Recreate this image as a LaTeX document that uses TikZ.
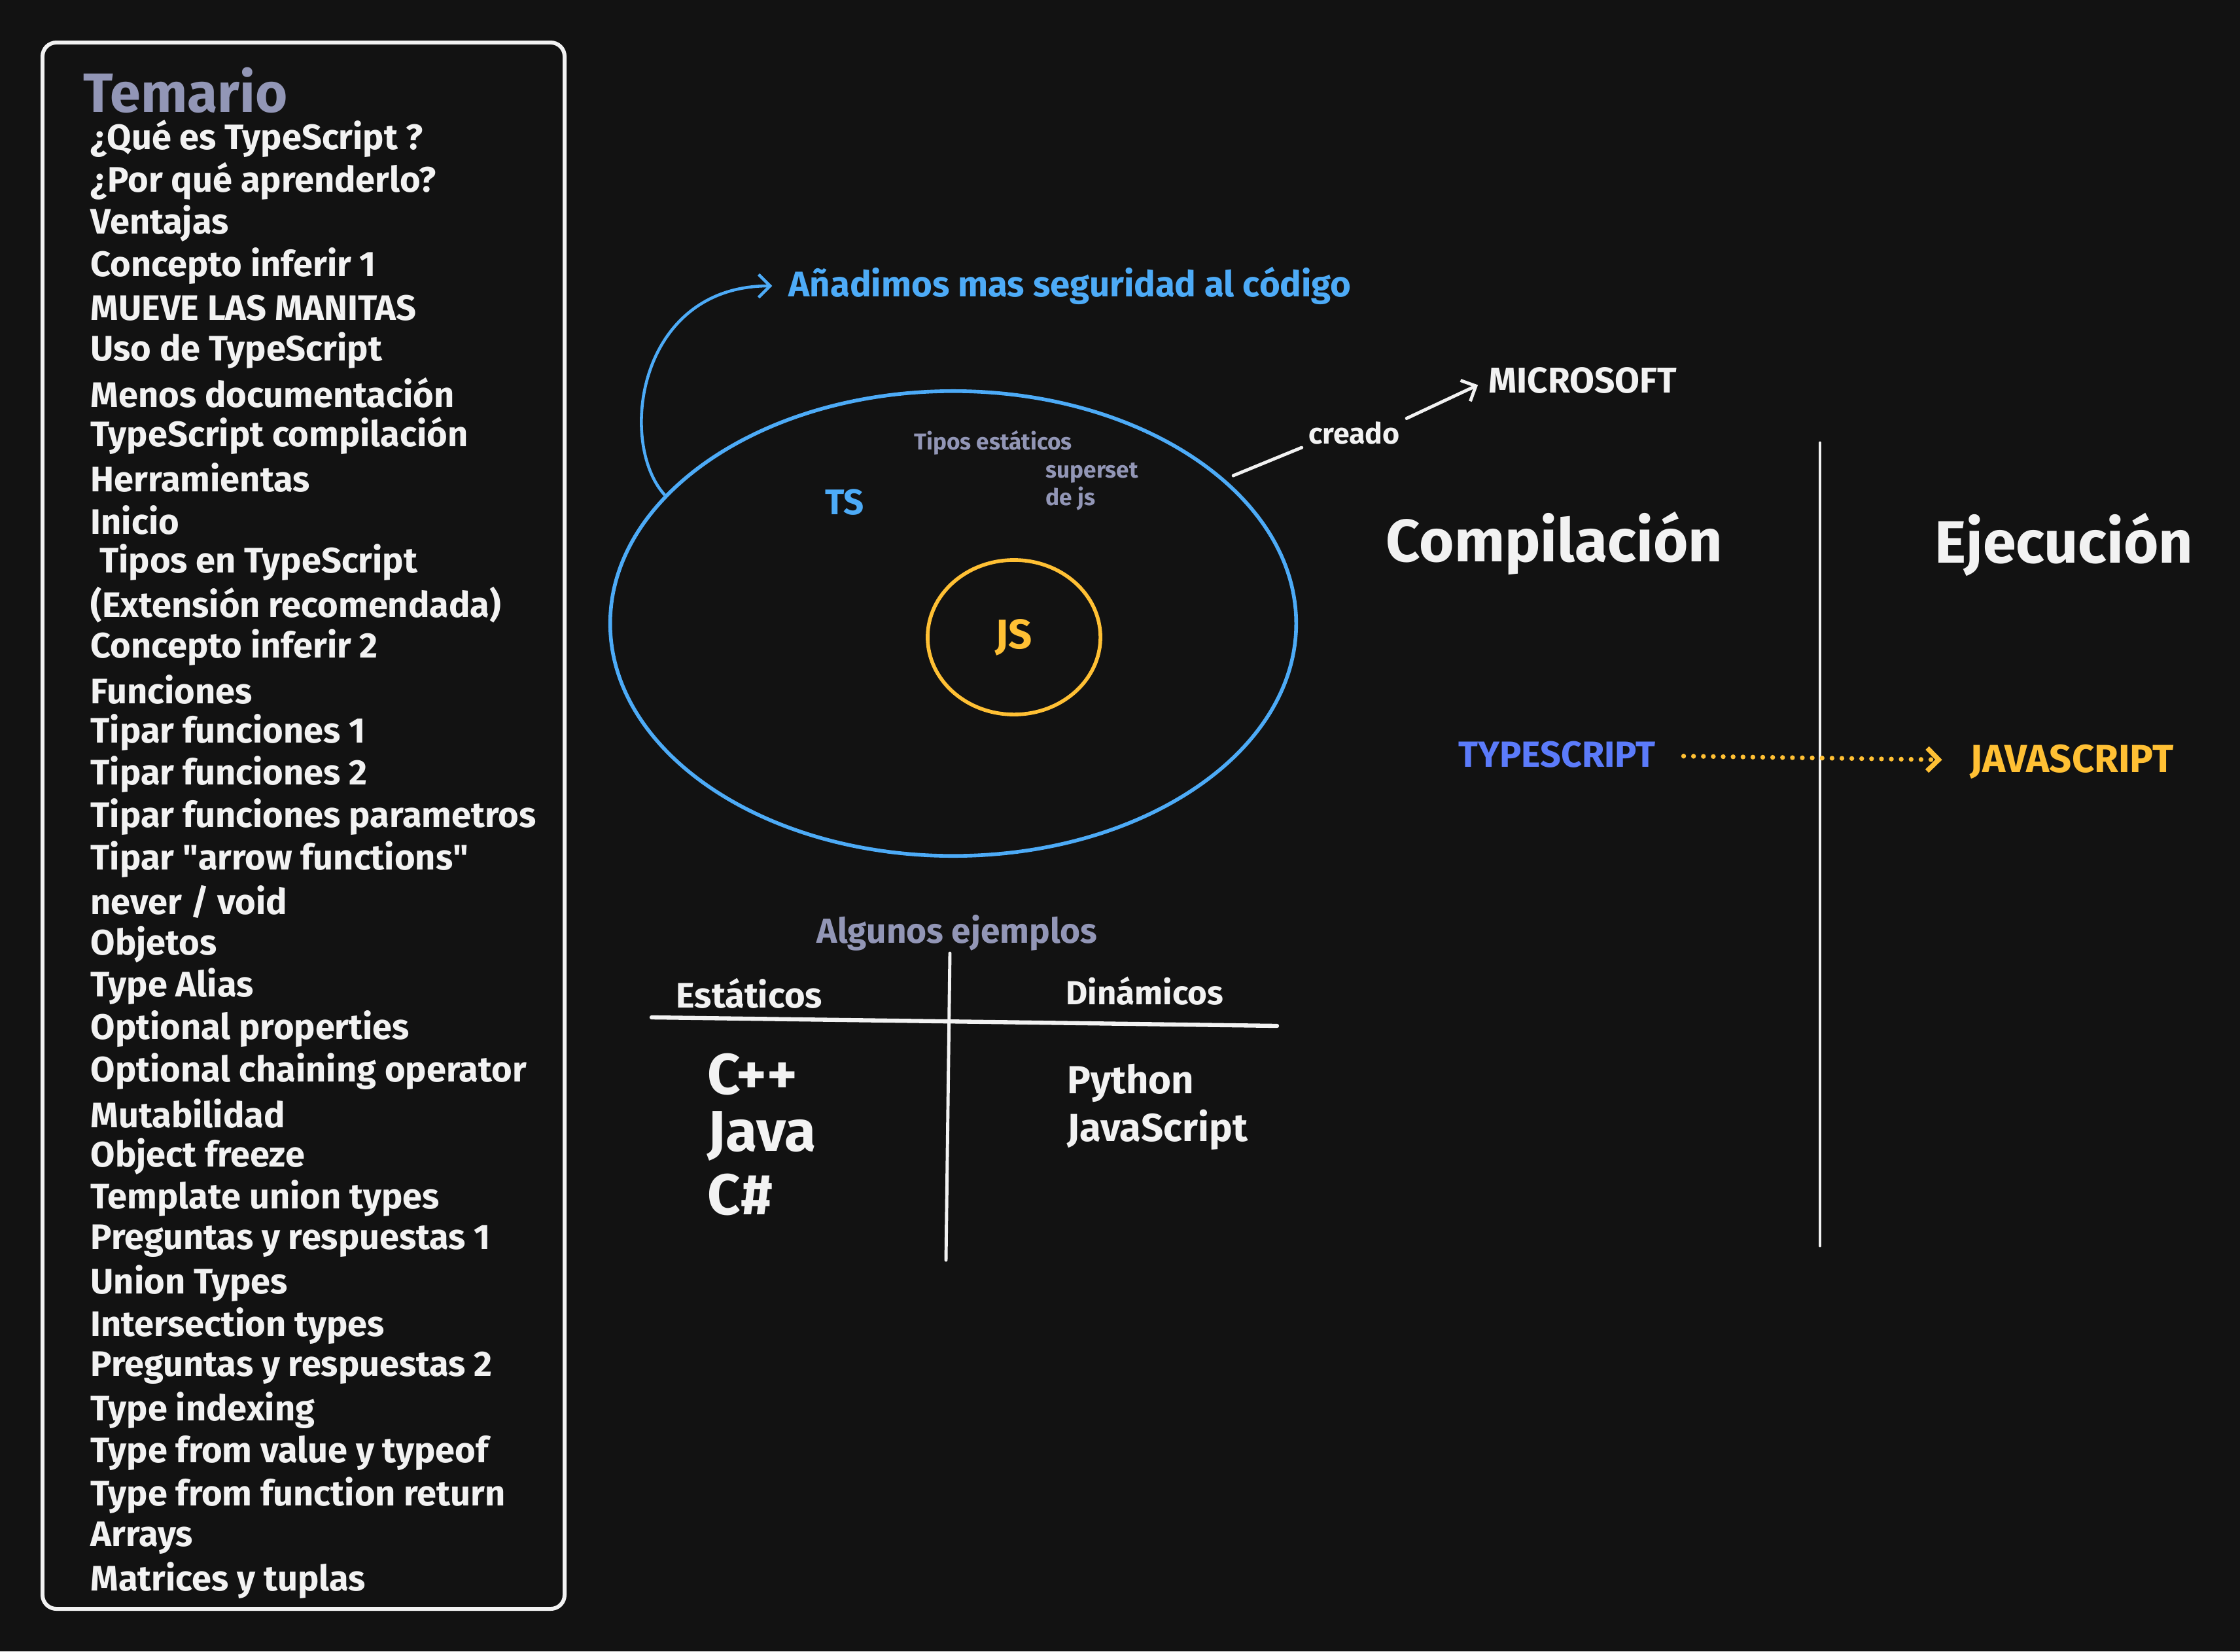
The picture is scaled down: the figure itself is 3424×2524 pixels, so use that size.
\documentclass[tikz,border=0pt]{standalone}
\usepackage{fontspec}
\setmainfont{Fira Sans}
\setmonofont{Fira Sans}
\usetikzlibrary{positioning,shapes.geometric,arrows.meta}

\definecolor{canvas}{HTML}{121212}
\definecolor{chalk}{HTML}{F2F2F2}
\definecolor{slate}{HTML}{9296B6}
\definecolor{tsblue}{HTML}{4DABF7}
\definecolor{jsyellow}{HTML}{FFC034}
\definecolor{tsindigo}{HTML}{5B7BFA}

\tikzset{
  txt/.style={inner sep=0pt, text=chalk, font=\fontsize{#1}{#1}\selectfont\bfseries},
  topic/.style={txt=15.4, anchor=west},
  note/.style={txt=10, text=slate},
  heading/.style={txt=26},
  chalkline/.style={draw=chalk, line width=1.4pt, line cap=round},
  barb/.style={-{Straight Barb[length=5pt,width=10pt]}}
}

\begin{document}
\begin{tikzpicture}[x=0.01cm, y=-0.01cm]
  \fill[canvas] (0,0) rectangle (3424,2524);

  \draw[chalk, line width=1.7pt, rounded corners=6pt] (65,65) rectangle (863,2459);
  \node (temario) [txt=24, text=slate, anchor=west] at (127,138) {Temario};
  \foreach \entry [count=\idx] in {¿Qué es TypeScript ?, ¿Por qué aprenderlo?, Ventajas,
      Concepto inferir 1, MUEVE LAS MANITAS, Uso de TypeScript, Menos documentación,
      TypeScript compilación, Herramientas, Inicio, {\hspace*{0.25em}Tipos en TypeScript},
      (Extensión recomendada), Concepto inferir 2, Funciones, Tipar funciones 1,
      Tipar funciones 2, Tipar funciones parametros, Tipar {\ttfamily"}arrow functions{\ttfamily"},
      never / void, Objetos, Type Alias, Optional properties, Optional chaining operator,
      Mutabilidad, Object freeze, Template union types, Preguntas y respuestas 1,
      Union Types, Intersection types, Preguntas y respuestas 2, Type indexing,
      Type from value y typeof, Type from function return, Arrays, Matrices y tuplas}
    \node (topic\idx) [topic] at (138,{212+(\idx-1)*64.8}) {\entry};

  \node (ts) [ellipse, draw=tsblue, line width=1.6pt, minimum width=10.48cm,
              minimum height=7.1cm] at (1457,953) {};
  \node (js) [ellipse, draw=jsyellow, line width=1.6pt, minimum width=2.64cm,
              minimum height=2.36cm, txt=18, text=jsyellow] at (1550,974) {JS};
  \node (tslabel) [txt=15.5, text=tsblue] at (1291,768) {TS};
  \node (tipos) [note] at (1518,677) {Tipos estáticos};
  \node (superset) [note, anchor=west] at (1598,723) {superset};
  \node (dejs) [note, anchor=west] at (1598,762) {de js};

  \node (anadimos) [txt=15.5, text=tsblue, anchor=west] at (1205,437)
        {Añadimos mas seguridad al código};
  \draw[barb, tsblue, line width=1.3pt] (ts.156) .. controls +(-73,-80) and +(-230,0) .. (anadimos.west)
        [shorten >=7pt];

  \node (creado) [txt=12.7] at (2070,662) {creado};
  \node (microsoft) [txt=15.6, anchor=west] at (2275,581) {MICROSOFT};
  \draw[chalkline, shorten <=3pt, shorten >=4pt] (creado.south west) -- (ts.28);
  \draw[chalkline, barb, shorten <=3pt, shorten >=5pt] (creado.north east) -- (microsoft.west);

  \node (compilacion) [heading] at (2376,830) {Compilación};
  \node (ejecucion) [heading] at (3155,832) {Ejecución};
  \draw[chalkline] (2782,677) -- (2782,1904);

  \node (typescript) [txt=15.8, text=tsindigo] at (2380,1153) {TYPESCRIPT};
  \node (javascript) [txt=17, text=jsyellow] at (3167,1164) {JAVASCRIPT};
  \draw[barb, jsyellow, line width=2.1pt, line cap=round, dash pattern=on 0pt off 4.3pt,
        shorten <=12pt, shorten >=12pt] (typescript) -- (javascript);

  \node (algunos) [txt=15.1, text=slate] at (1463,1426) {Algunos ejemplos};
  \draw[chalkline, line width=1.8pt] (996,1555) -- (1952,1568);
  \draw[chalkline] (1452,1457) -- (1446,1926);
  \node (estaticos) [txt=15.4, anchor=west] at (1033,1518) {Estáticos};
  \node (dinamicos) [txt=14.5, anchor=west] at (1629,1515) {Dinámicos};
  \node (cpp) [txt=25, anchor=west] at (1081,1642) {C++};
  \node (java) [txt=25, anchor=west] at (1081,1736) {Java};
  \node (csharp) [txt=25, anchor=west] at (1081,1826) {C\#};
  \node (python) [txt=17, anchor=west] at (1631,1655) {Python};
  \node (jsexample) [txt=17, anchor=west] at (1631,1727) {JavaScript};
\end{tikzpicture}
\end{document}
